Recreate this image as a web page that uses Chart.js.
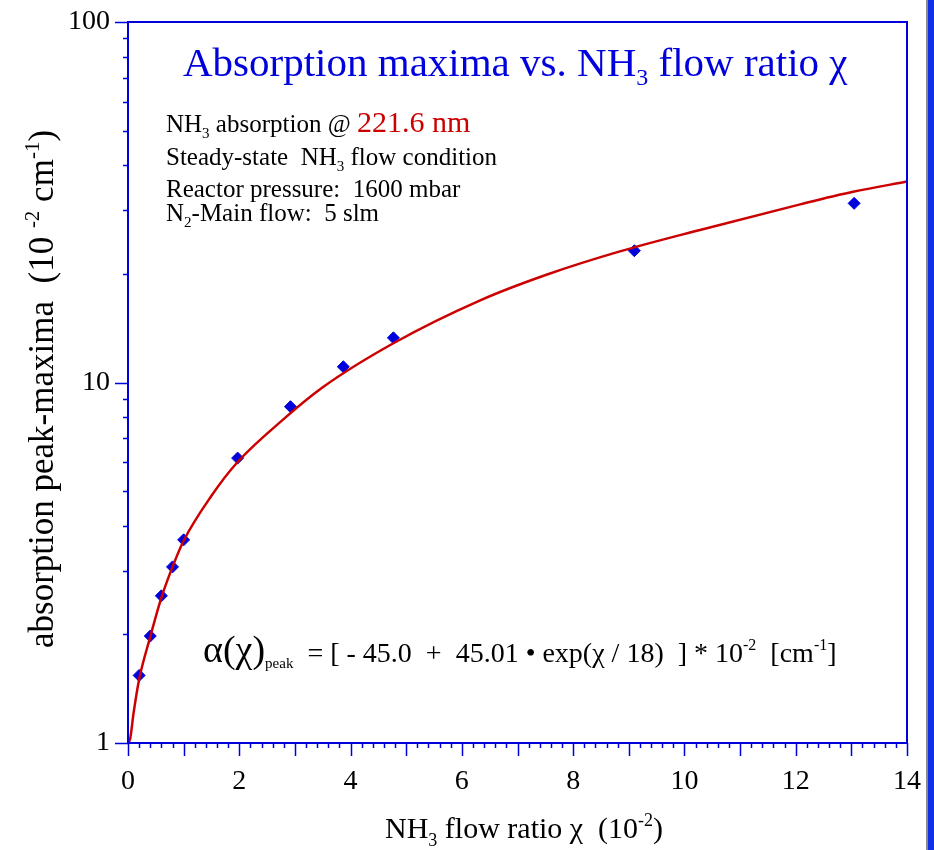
<!DOCTYPE html>
<html>
<head>
<meta charset="utf-8">
<script src="https://cdn.jsdelivr.net/npm/chart.js@4.4.0/dist/chart.umd.min.js"></script>
<style>
    html, body { margin: 0; padding: 0; background: #fff; }
    #grafico { display: block; }
</style>
</head>
<body>
<canvas id="grafico" width="934" height="850" style="width:934px;height:850px"></canvas>
<script>
// Valores
var puntosX = [0.2, 0.4, 0.6, 0.8, 1.0, 1.97, 2.92, 3.87, 4.77, 9.1, 13.05];
var puntosY = [1.54, 1.98, 2.56, 3.08, 3.66, 6.17, 8.57, 11.06, 13.3, 23.2, 31.4];

// Curva de ajuste
var curvaX = [0, 0.04, 0.1, 0.2, 0.4, 0.6, 0.8, 1.0, 1.5, 1.95, 2.75, 3.5, 4.77, 6.33, 7.52, 8.84, 10.28, 12.08, 13.03, 14];
var curvaY = [1.0, 1.03, 1.21, 1.5, 1.97, 2.53, 3.08, 3.64, 4.85, 5.97, 7.8, 9.7, 12.85, 16.9, 19.9, 23.1, 26.5, 31.2, 33.8, 36.1];

var ticksY = [1, 10, 100];

var SERIF = '"Liberation Serif", "DejaVu Serif", serif';
var AZUL = '#0000dd';
var ROJO = '#cc0000';

function aPuntos(xs, ys) {
    return xs.map(function (x, i) {
        return { x: x, y: ys[i] };
    });
}

// Dibuja texto por partes: [texto, tamaño, color, desplazamiento vertical]
function texto(ctx, x, y, partes) {
    partes.forEach(function (p) {
        ctx.font = p[1] + 'px ' + SERIF;
        ctx.fillStyle = p[2] || '#000';
        ctx.fillText(p[0], x, y + (p[3] || 0));
        x += ctx.measureText(p[0]).width;
    });
}

var decoracion = {
    id: 'decoracion',
    afterDraw: function (chart) {
        var ctx = chart.ctx;
        var area = chart.chartArea;
        var ejeX = chart.scales.x;
        var ejeY = chart.scales.y;

        ctx.save();
        ctx.textBaseline = 'alphabetic';
        ctx.textAlign = 'left';

        // Marco azul
        ctx.strokeStyle = AZUL;
        ctx.lineWidth = 2;
        ctx.strokeRect(area.left, area.top, area.right - area.left, area.bottom - area.top);

        // Marcas del eje x (cada 0.2, largas en enteros)
        ctx.lineWidth = 1.5;
        ctx.beginPath();
        for (var i = 0; i <= 70; i++) {
            var px = Math.round(ejeX.getPixelForValue(i * 0.2)) + 0.5;
            var largo = (i % 5 === 0) ? 13 : 5;
            ctx.moveTo(px, area.bottom);
            ctx.lineTo(px, area.bottom + largo);
        }
        // Marcas del eje y (logaritmico)
        [1, 10].forEach(function (dec) {
            for (var m = 1; m <= 9; m++) {
                var py = Math.round(ejeY.getPixelForValue(m * dec)) + 0.5;
                var l = (m === 1) ? 13 : 5;
                ctx.moveTo(area.left, py);
                ctx.lineTo(area.left - l, py);
            }
        });
        var pTop = Math.round(ejeY.getPixelForValue(100)) + 0.5;
        ctx.moveTo(area.left, pTop);
        ctx.lineTo(area.left - 13, pTop);
        ctx.stroke();

        // Titulo
        texto(ctx, 183, 76, [
            ['Absorption maxima vs. NH', 41, AZUL],
            ['3', 24, AZUL, 9],
            [' flow ratio \u03c7', 41, AZUL]
        ]);

        // Condiciones
        texto(ctx, 166, 132, [
            ['NH', 25], ['3', 15, '#000', 6], [' absorption @ ', 25], ['221.6 nm', 30, ROJO]
        ]);
        texto(ctx, 166, 165, [
            ['Steady-state  NH', 25], ['3', 15, '#000', 6], [' flow condition', 25]
        ]);
        texto(ctx, 166, 197, [['Reactor pressure:  1600 mbar', 25]]);
        texto(ctx, 166, 221, [
            ['N', 25], ['2', 15, '#000', 6], ['-Main flow:  5 slm', 25]
        ]);

        // Formula del ajuste
        texto(ctx, 203, 662, [
            ['\u03b1(\u03c7)', 38],
            ['peak', 15, '#000', 6],
            ['  = [ - 45.0  +  45.01 \u2022 exp(\u03c7 / 18)  ] * 10', 28],
            ['-2', 16, '#000', -12],
            ['  [cm', 28],
            ['-1', 16, '#000', -12],
            [']', 28]
        ]);

        // Titulo eje x
        texto(ctx, 385, 838, [
            ['NH', 30], ['3', 18, '#000', 8], [' flow ratio \u03c7  (10', 30], ['-2', 18, '#000', -12], [')', 30]
        ]);

        // Titulo eje y (rotado)
        ctx.translate(53, 648);
        ctx.rotate(-Math.PI / 2);
        texto(ctx, 0, 0, [
            ['absorption peak-maxima  (10 ', 35],
            ['-2', 21, '#000', -14],
            [' cm', 35],
            ['-1', 21, '#000', -14],
            [')', 35]
        ]);
        ctx.restore();

        // Borde de la diapositiva a la derecha
        ctx.save();
        ctx.fillStyle = '#8a8a8a';
        ctx.fillRect(926, 0, 2, chart.height);
        ctx.fillStyle = '#1030e8';
        ctx.fillRect(928, 0, 6, chart.height);
        ctx.restore();
    }
};

var ctx = document.getElementById('grafico').getContext('2d');
new Chart(ctx, {
    type: 'scatter',
    data: {
        datasets: [{
            label: 'ajuste',
            data: aPuntos(curvaX, curvaY),
            showLine: true,
            borderColor: ROJO,
            borderWidth: 2.5,
            pointRadius: 0,
            cubicInterpolationMode: 'monotone',
            fill: false
        }, {
            label: 'medidas',
            data: aPuntos(puntosX, puntosY),
            pointStyle: 'rectRot',
            pointRadius: 6,
            backgroundColor: AZUL,
            borderColor: AZUL,
            borderWidth: 1
        }]
    },
    options: {
        responsive: false,
        animation: false,
        layout: {
            padding: { top: 22, right: 27, left: 0, bottom: 0 }
        },
        plugins: {
            legend: { display: false },
            tooltip: { enabled: false }
        },
        scales: {
            x: {
                type: 'linear',
                min: 0,
                max: 14,
                grid: { display: false, drawTicks: false },
                border: { display: false },
                ticks: {
                    stepSize: 2,
                    maxRotation: 0,
                    color: '#000',
                    padding: 22,
                    font: { family: SERIF, size: 28 }
                },
                afterFit: function (s) {
                    s.height = 107;
                    s.paddingLeft = 0;
                    s.paddingRight = 0;
                }
            },
            y: {
                type: 'logarithmic',
                min: 1,
                max: 100,
                grid: { display: false, drawTicks: false },
                border: { display: false },
                ticks: {
                    autoSkip: false,
                    color: '#000',
                    padding: 18,
                    font: { family: SERIF, size: 28 },
                    callback: function (v) {
                        return ticksY.indexOf(v) >= 0 ? String(v) : '';
                    }
                },
                afterFit: function (s) {
                    s.width = 128;
                    s.paddingTop = 0;
                    s.paddingBottom = 0;
                }
            }
        }
    },
    plugins: [decoracion]
});
</script>
</body>
</html>
